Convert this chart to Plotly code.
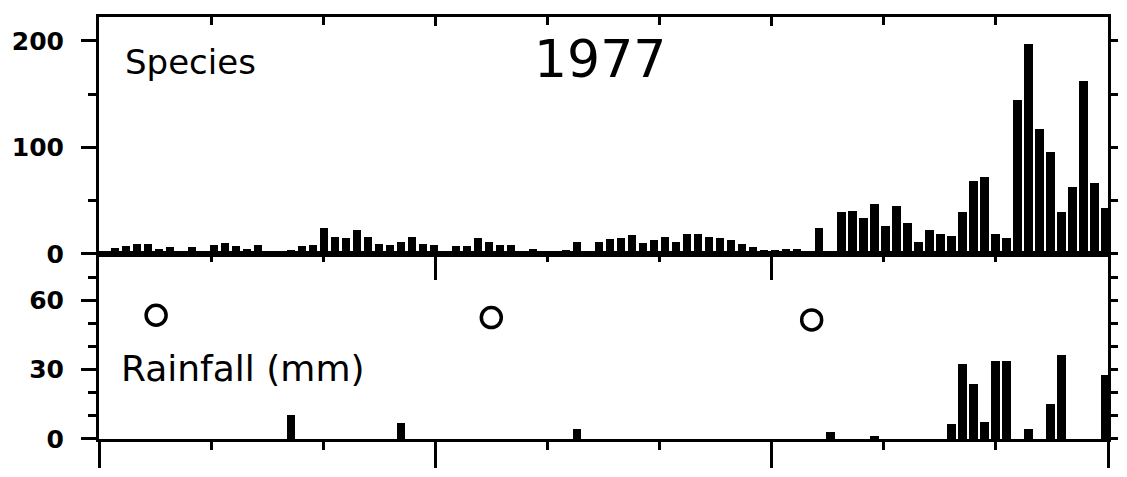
import plotly.graph_objects as go

# ---------------- data ----------------
# sampling slots (evenly spaced collections through 1977)
slots = list(range(91))
species = [5.5, 7, 9, 9.5, 4.5, 6.5, 0, 6, 3, 8.5,
           10, 7.5, 4.5, 8.5, 0, 0, 4, 7, 8.5, 24,
           16, 14.5, 22.5, 16, 9.5, 8.5, 11.5, 15.5, 9, 8.5,
           1, 7.5, 7.5, 15, 11.5, 8.5, 8, 1, 5, 2,
           3, 4, 11.5, 1, 11.5, 13.5, 15, 18, 10, 13,
           15.5, 11.5, 19, 19, 16, 15, 13, 9, 6, 4,
           4, 4.5, 5, 0, 24.5, 0, 39, 40, 33.5, 47,
           26.5, 44.5, 29, 11, 22.5, 19, 17, 39, 68, 72,
           19, 15, 144, 197, 117.5, 96, 39.5, 62.5, 162, 66.5,
           43]

rain_slots = [16, 26, 42, 65, 69, 76, 77, 78, 79, 80, 81, 83, 85, 86, 90]
rain_mm = [10.5, 7, 4.5, 3, 1.3, 6.6, 32.5, 24, 7.6, 34, 34, 4.5, 15.4, 36.5, 27.7]

circle_slots = [3.75, 34.2, 63.3]
circle_y = [53.5, 52.5, 51.5]

year_label = "1977"
top_label = "Species"
bottom_label = "Rainfall (mm)"

# ---------------- geometry ----------------
W, H = 1127, 477
ML, MR, MT, MB = 93, 14, 17, 27
plot_w = W - ML - MR
plot_h = H - MT - MB
split_px = 260
dsplit = (H - MB - split_px) / plot_h

XR = [-1.438, 90.22]
YR_TOP = [0, 222.4]
YR_BOT = [0, 80.06]
step = (XR[1] - XR[0]) / 9
all_ticks = [XR[0] + step * i for i in range(10)]
major_ticks = [all_ticks[i] for i in (0, 3, 6, 9)]
minor_ticks = [all_ticks[i] for i in range(10) if i not in (0, 3, 6, 9)]

def px_x(px):
    return (px - ML) / plot_w

def px_y(py):
    return (H - MB - py) / plot_h

BLACK = "black"
tick_font = dict(family="DejaVu Sans", size=25, color=BLACK, weight="bold")

fig = go.Figure()
fig.add_trace(go.Bar(x=slots, y=species, width=0.75, marker=dict(color=BLACK, line=dict(width=0)),
                     xaxis="x", yaxis="y", showlegend=False, hoverinfo="skip"))
fig.add_trace(go.Bar(x=rain_slots, y=rain_mm, width=0.75, marker=dict(color=BLACK, line=dict(width=0)),
                     xaxis="x2", yaxis="y2", showlegend=False, hoverinfo="skip"))
fig.add_trace(go.Scatter(x=circle_slots, y=circle_y, mode="markers",
                         marker=dict(symbol="circle-open", size=20, color=BLACK, line=dict(width=3.5, color=BLACK)),
                         xaxis="x2", yaxis="y2", showlegend=False, hoverinfo="skip"))

# invisible helper traces so the overlaying frame axes get drawn
for xa, ya in (("x4", "y"), ("x", "y3"), ("x3", "y2"), ("x2", "y4")):
    fig.add_trace(go.Scatter(x=[XR[0]], y=[0], mode="markers", marker=dict(opacity=0, size=1),
                             xaxis=xa, yaxis=ya, showlegend=False, hoverinfo="skip"))

common_x = dict(range=XR, showgrid=False, zeroline=False, showline=True, linewidth=3,
                linecolor=BLACK, showticklabels=False, tickcolor=BLACK, tickwidth=2.5)

fig.update_layout(
    width=W, height=H, autosize=False,
    margin=dict(l=ML, r=MR, t=MT, b=MB, pad=0),
    paper_bgcolor="white", plot_bgcolor="white",
    bargap=0,
    xaxis=dict(**common_x, domain=[0, 1], anchor="y", ticks=""),
    xaxis4=dict(**common_x, overlaying="x", anchor="y", side="top", ticks="inside",
                tickvals=major_ticks, ticklen=9,
                minor=dict(tickvals=minor_ticks, ticks="inside", ticklen=8, tickwidth=2.5, tickcolor=BLACK)),
    xaxis2=dict(**common_x, domain=[0, 1], anchor="y2", ticks="outside",
                tickvals=major_ticks, ticklen=26,
                minor=dict(tickvals=minor_ticks, ticks="outside", ticklen=8, tickwidth=2.5, tickcolor=BLACK)),
    xaxis3=dict(**common_x, overlaying="x2", anchor="y2", side="top", ticks="inside",
                tickvals=major_ticks, ticklen=26,
                minor=dict(tickvals=minor_ticks, ticks="inside", ticklen=8, tickwidth=2.5, tickcolor=BLACK)),
    yaxis=dict(domain=[dsplit, 1], anchor="x", range=YR_TOP, showgrid=False, zeroline=False,
               showline=True, linewidth=3, linecolor=BLACK,
               tickvals=[0, 100, 200], ticks="outside", ticklen=15, tickwidth=2.5, tickcolor=BLACK,
               tickfont=tick_font, ticklabelstandoff=12,
               minor=dict(tickvals=[50, 150], ticks="outside", ticklen=8, tickwidth=2.5, tickcolor=BLACK)),
    yaxis3=dict(overlaying="y", anchor="x", side="right", range=YR_TOP, showgrid=False, zeroline=False,
                showline=True, linewidth=3, linecolor=BLACK, showticklabels=False,
                tickvals=[0, 50, 100, 150, 200], ticks="outside", ticklen=7, tickwidth=2.5, tickcolor=BLACK),
    yaxis2=dict(domain=[0, dsplit], anchor="x2", range=YR_BOT, showgrid=False, zeroline=False,
                showline=True, linewidth=3, linecolor=BLACK,
                tickvals=[0, 30, 60], ticks="outside", ticklen=15, tickwidth=2.5, tickcolor=BLACK,
                tickfont=tick_font, ticklabelstandoff=12,
                minor=dict(tickvals=[10, 20, 40, 50, 70], ticks="outside", ticklen=8, tickwidth=2.5, tickcolor=BLACK)),
    yaxis4=dict(overlaying="y2", anchor="x2", side="right", range=YR_BOT, showgrid=False, zeroline=False,
                showline=True, linewidth=3, linecolor=BLACK, showticklabels=False,
                tickvals=[0, 10, 20, 30, 40, 50, 60, 70], ticks="outside", ticklen=7, tickwidth=2.5, tickcolor=BLACK),
    annotations=[
        dict(text=year_label, xref="paper", yref="paper", x=px_x(599), y=px_y(60.5),
             xanchor="center", yanchor="middle", showarrow=False,
             font=dict(family="DejaVu Sans", size=52, color=BLACK)),
        dict(text=top_label, xref="paper", yref="paper", x=px_x(117), y=px_y(63),
             xanchor="left", yanchor="middle", showarrow=False,
             font=dict(family="DejaVu Sans", size=34, color=BLACK)),
        dict(text=bottom_label, xref="paper", yref="paper", x=px_x(113), y=px_y(378),
             xanchor="left", yanchor="middle", showarrow=False,
             font=dict(family="DejaVu Sans", size=36, color=BLACK)),
    ],
)

fig.write_html("out.html")
